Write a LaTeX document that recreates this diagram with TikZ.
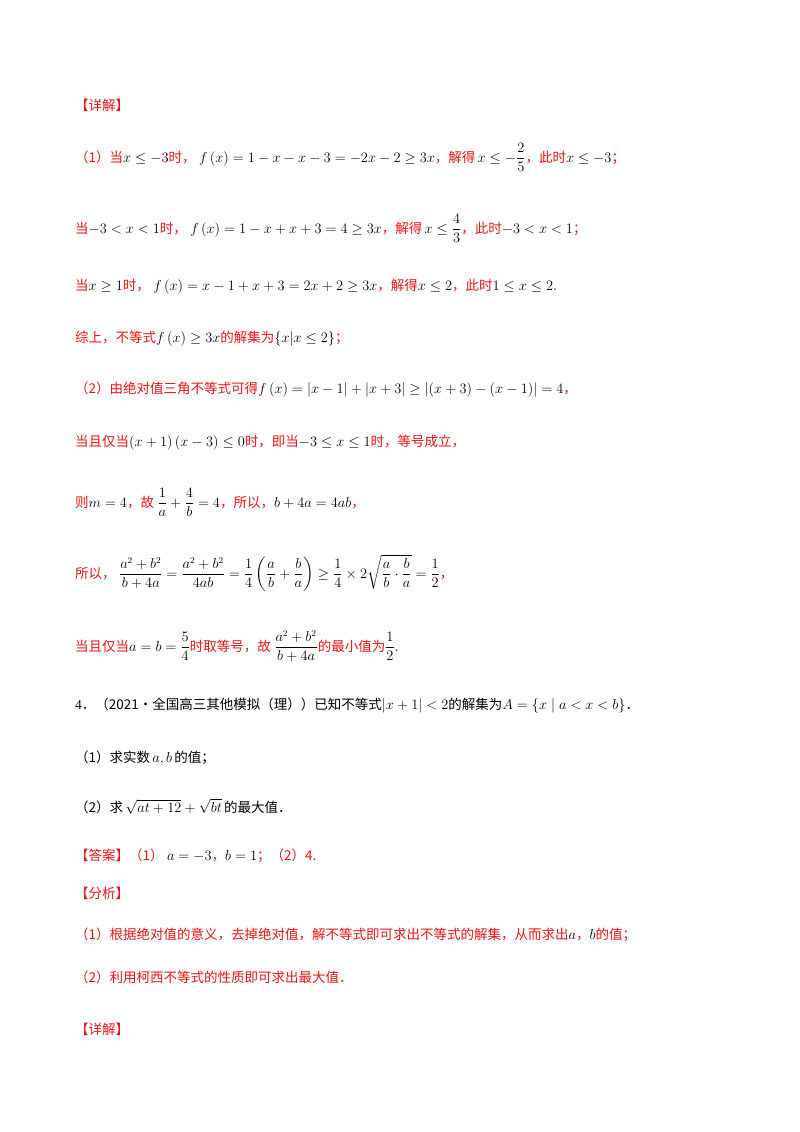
\documentclass[tikz,border=0pt]{standalone}
\usepackage{fontspec}
\usepackage{amsmath}
\setmainfont{Liberation Serif}
\newfontfamily\cj{Noto Sans CJK SC}
\definecolor{rd}{RGB}{235,20,20}
\newcommand{\R}[1]{{\color{rd}\cj #1}}
\newcommand{\K}[1]{{\cj #1}}
\begin{document}
\begin{tikzpicture}[x=1pt,y=-1pt,every node/.style={anchor=base west,inner sep=0pt,font=\fontsize{13.5}{16}\selectfont}]
\fill[white] (0,0) rectangle (800,1132);
\node (a1) at (75,110) {\R{【详解】}};
\node (a2) at (75,162) {\R{（1）当}$x\le-3$\R{时，}\ $f\left(x\right)=1-x-x-3=-2x-2\ge3x$\R{，解得}\,$x\le-\dfrac{2}{5}$\R{，此时}$x\le-3$\R{；}};
\node (a3) at (75,233) {\R{当}$-3<x<1$\R{时，}\ $f\left(x\right)=1-x+x+3=4\ge3x$\R{，解得}\,$x\le\dfrac{4}{3}$\R{，此时}$-3<x<1$\R{；}};
\node (a4) at (75,290) {\R{当}$x\ge1$\R{时，}\ $f\left(x\right)=x-1+x+3=2x+2\ge3x$\R{，解得}$x\le2$\R{，此时}$1\le x\le2$\R{.}};
\node (a5) at (75,342) {\R{综上，不等式}$f\left(x\right)\ge3x$\R{的解集为}$\left\{x\middle|x\le2\right\}$\R{；}};
\node (a6) at (75,393) {\R{（2）由绝对值三角不等式可得}$f\left(x\right)=\left|x-1\right|+\left|x+3\right|\ge\left|\left(x+3\right)-\left(x-1\right)\right|=4$\R{，}};
\node (a7) at (75,446) {\R{当且仅当}$\left(x+1\right)\left(x-3\right)\le0$\R{时，即当}$-3\le x\le1$\R{时，等号成立，}};
\node (a8) at (75,507) {\R{则}$m=4$\R{，故}\ $\dfrac{1}{a}+\dfrac{4}{b}=4$\R{，所以，}$b+4a=4ab$\R{，}};
\node (a9) at (75,578) {\R{所以，}\ $\dfrac{a^2+b^2}{b+4a}=\dfrac{a^2+b^2}{4ab}=\dfrac14\left(\dfrac ab+\dfrac ba\right)\ge\dfrac14\times2\sqrt{\dfrac ab\cdot\dfrac ba}=\dfrac12$\R{，}};
\node (a10) at (75,651) {\R{当且仅当}$a=b=\dfrac54$\R{时取等号，故}\ $\dfrac{a^2+b^2}{b+4a}$\R{的最小值为}$\dfrac12$\R{.}};
\node (b1) at (75,709) {4\K{．（2021·全国高三其他模拟（理））已知不等式}$\left|x+1\right|<2$\K{的解集为}$A=\{x\mid a<x<b\}$\K{．}};
\node (b2) at (75,762) {\K{（1）求实数}\,$a,b$\,\K{的值；}};
\node (b3) at (75,812) {\K{（2）求}\,$\sqrt{at+12}+\sqrt{bt}$\,\K{的最大值．}};
\node (b4) at (75,860) {\R{【答案】（1）}\ $a=-3$\R{，}$b=1$\R{；（2）4.}};
\node (b5) at (75,898) {\R{【分析】}};
\node (b6) at (75,939) {\R{（1）根据绝对值的意义，去掉绝对值，解不等式即可求出不等式的解集，从而求出}$a$\R{，}$b$\R{的值；}};
\node (b7) at (75,982) {\R{（2）利用柯西不等式的性质即可求出最大值．}};
\node (b8) at (75,1034) {\R{【详解】}};
\end{tikzpicture}
\end{document}
